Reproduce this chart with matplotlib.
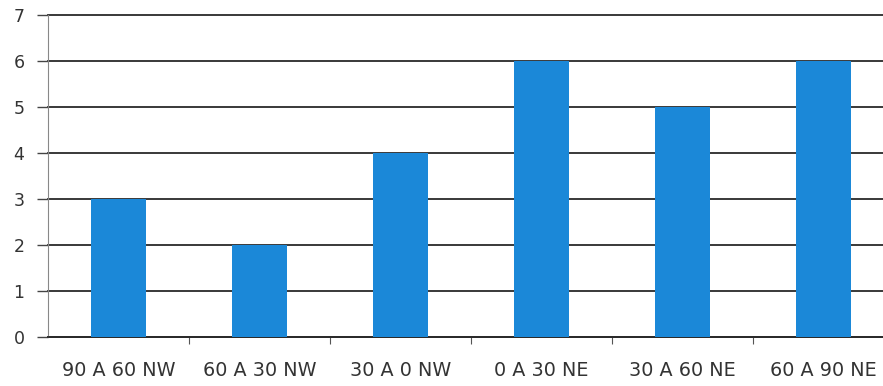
import matplotlib
matplotlib.use("Agg")
import matplotlib.pyplot as plt
import numpy as np

categories = ["90 A 60 NW", "60 A 30 NW", "30 A 0 NW", "0 A 30 NE", "30 A 60 NE", "60 A 90 NE"]
counts = [3, 2, 4, 6, 5, 6]
y_ticks = [0, 1, 2, 3, 4, 5, 6, 7]

W, H = 883, 386
fig = plt.figure(figsize=(W / 100, H / 100), dpi=100)
fig.patch.set_facecolor("white")

left, right_px = 48, 894
top, bottom = 15, 337
ax = fig.add_axes([left / W, 1 - bottom / H, (right_px - left) / W, (bottom - top) / H])

x = np.arange(len(categories))
ax.bar(x, counts, width=0.39, color="#1b88d8", zorder=3)

ax.set_xlim(-0.5, len(categories) - 0.5)
ax.set_ylim(0, 7)
ax.set_yticks(y_ticks)
ax.set_yticklabels([str(v) for v in y_ticks])
ax.yaxis.grid(True, color="#2a2a2a", linewidth=1.3, zorder=0)
for gl in ax.get_ygridlines():
    gl.set_clip_on(False)
ax.set_axisbelow(True)

# category labels centred under bars, ticks on category boundaries
ax.set_xticks(x)
ax.set_xticklabels(categories)
ax.set_xticks(np.arange(0.5, len(categories) - 0.5, 1.0), minor=True)
ax.tick_params(axis="x", which="major", length=0, pad=17, labelsize=13.8, labelcolor="#333333")
ax.tick_params(axis="x", which="minor", length=5, width=0.8, color="#555555", direction="out")
ax.tick_params(axis="y", length=8, width=1.0, color="#444444", pad=9, labelsize=12.5, labelcolor="#333333")

for side in ("top", "right"):
    ax.spines[side].set_visible(False)
ax.spines["left"].set_color("#888888")
ax.spines["left"].set_linewidth(0.8)
ax.spines["bottom"].set_color("#2a2a2a")
ax.spines["bottom"].set_linewidth(1.3)

fig.savefig("out.png", dpi=100)
